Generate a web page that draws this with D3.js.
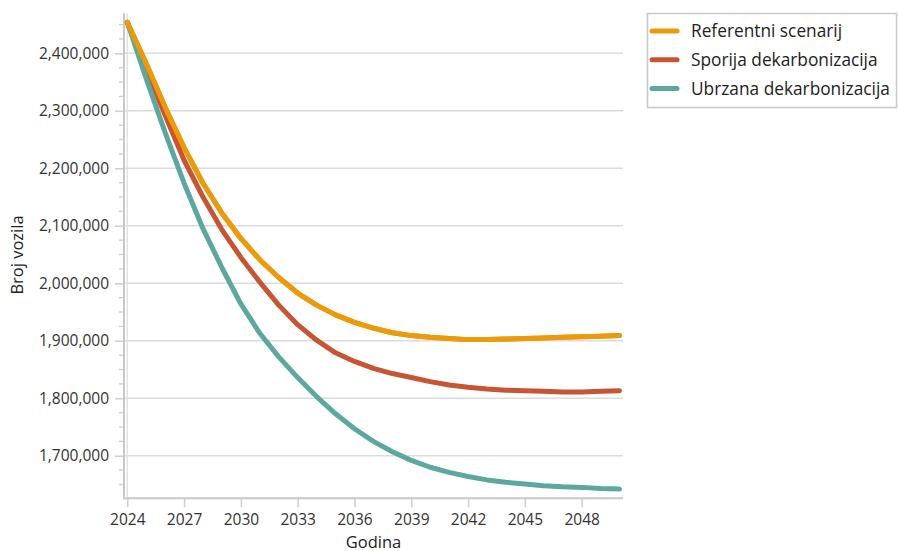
<!DOCTYPE html>
<html>
<head>
<meta charset="utf-8">
<script src="https://cdn.jsdelivr.net/npm/d3@7"></script>
<style>
  html, body { margin: 0; padding: 0; background: #fff; }
  svg { display: block; font-family: "Open Sans", "Noto Sans", sans-serif; }
</style>
</head>
<body>
<svg id="chart" width="898" height="551"></svg>
<script>
const years = d3.range(2024, 2051);
const seriesNames = ["Referentni scenarij", "Sporija dekarbonizacija", "Ubrzana dekarbonizacija"];
const seriesColors = ["#EA9A0A", "#C75433", "#5CA8A0"];
const referentni = [2454000, 2382000, 2306000, 2236000, 2174000, 2122000, 2078000, 2041000, 2010000, 1983000,
  1962000, 1945000, 1932000, 1922000, 1914000, 1909000, 1906000, 1904000, 1902000, 1902000,
  1903000, 1904000, 1905000, 1906000, 1907000, 1908000, 1909000];
const sporija = [2454000, 2372000, 2292000, 2214000, 2150000, 2093000, 2045000, 2002000, 1962000, 1928000,
  1901000, 1879000, 1864000, 1852000, 1843000, 1836000, 1829000, 1823000, 1819000, 1816000,
  1814000, 1813000, 1812000, 1811000, 1811000, 1812000, 1813000];
const ubrzana = [2454000, 2356000, 2262000, 2174000, 2095000, 2027000, 1964000, 1913000, 1872000, 1836000,
  1803000, 1773000, 1747000, 1725000, 1707000, 1692000, 1680000, 1671000, 1664000, 1658000,
  1654000, 1651000, 1648000, 1646000, 1645000, 1643000, 1642000];
const seriesValues = [referentni, sporija, ubrzana];
const xTicks = [2024, 2027, 2030, 2033, 2036, 2039, 2042, 2045, 2048];
const yTicks = [1700000, 1800000, 1900000, 2000000, 2100000, 2200000, 2300000, 2400000];
const xTitle = "Godina";
const yTitle = "Broj vozila";

const svg = d3.select("#chart");
const plotLeft = 124, plotRight = 623, plotTop = 13.3, plotBottom = 498.3;

const x = d3.scaleLinear().domain([2024, 2050]).range([127.3, 619.5]);
const y = d3.scaleLinear().domain([1626000, 2469600]).range([plotBottom, plotTop]);

// gridlines
const grid = svg.append("g");
grid.selectAll("line.h").data(yTicks).join("line")
  .attr("x1", plotLeft).attr("x2", plotRight)
  .attr("y1", d => y(d)).attr("y2", d => y(d))
  .attr("stroke", "#dcdcdc").attr("stroke-width", 1.6);
grid.append("line")
  .attr("x1", x(2024)).attr("x2", x(2024))
  .attr("y1", plotTop).attr("y2", plotBottom)
  .attr("stroke", "#e2e2e2").attr("stroke-width", 1.4);

// minor y ticks
const minor = d3.range(1650000, 2469600, 25000).filter(v => v % 100000 !== 0);
svg.append("g").selectAll("line").data(minor).join("line")
  .attr("x1", plotLeft - 5).attr("x2", plotLeft)
  .attr("y1", d => y(d)).attr("y2", d => y(d))
  .attr("stroke", "#d0d0d0").attr("stroke-width", 1.4);

const tickFont = "15.5px";

// y axis
const yAxis = svg.append("g").attr("transform", `translate(${plotLeft},0)`)
  .call(d3.axisLeft(y).tickValues(yTicks).tickFormat(d3.format(",")).tickSize(9).tickPadding(6));
yAxis.select(".domain").remove();
yAxis.selectAll(".tick line").attr("stroke", "#d0d0d0").attr("stroke-width", 1.6);
yAxis.selectAll(".tick text").attr("fill", "#333").style("font-size", tickFont)
  .style("font-family", "'Open Sans', 'Noto Sans', sans-serif");
svg.append("line").attr("x1", plotLeft).attr("x2", plotLeft)
  .attr("y1", plotTop).attr("y2", plotBottom + 1)
  .attr("stroke", "#c8c8c8").attr("stroke-width", 2);

// x axis
const xAxis = svg.append("g").attr("transform", `translate(0,${plotBottom})`)
  .call(d3.axisBottom(x).tickValues(xTicks).tickFormat(d3.format("d")).tickSize(9).tickPadding(7));
xAxis.select(".domain").remove();
xAxis.selectAll(".tick line").attr("stroke", "#d0d0d0").attr("stroke-width", 1.6);
xAxis.selectAll(".tick text").attr("fill", "#333").style("font-size", tickFont)
  .style("font-family", "'Open Sans', 'Noto Sans', sans-serif");
svg.append("line").attr("x1", plotLeft - 1).attr("x2", plotRight)
  .attr("y1", plotBottom).attr("y2", plotBottom)
  .attr("stroke", "#c8c8c8").attr("stroke-width", 2);

// titles
svg.append("text").attr("x", (plotLeft + plotRight) / 2).attr("y", 547.5)
  .attr("text-anchor", "middle").attr("fill", "#222").style("font-size", "16.5px").text(xTitle);
svg.append("text").attr("transform", `translate(23,255) rotate(-90)`)
  .attr("text-anchor", "middle").attr("fill", "#222").style("font-size", "16.5px").text(yTitle);

// lines
const line = d3.line().x((d, i) => x(years[i])).y(d => y(d));
svg.append("g").selectAll("path").data(seriesValues).join("path")
  .attr("d", d => line(d))
  .attr("fill", "none")
  .attr("stroke", (d, i) => seriesColors[i])
  .attr("stroke-width", 5)
  .attr("stroke-linecap", "round")
  .attr("stroke-linejoin", "round");
// orange drawn on top as in reference
svg.append("path").attr("d", line(referentni)).attr("fill", "none")
  .attr("stroke", seriesColors[0]).attr("stroke-width", 5)
  .attr("stroke-linecap", "round").attr("stroke-linejoin", "round");

// legend
const lg = svg.append("g");
lg.append("rect").attr("x", 647.5).attr("y", 13.5).attr("width", 249).attr("height", 94)
  .attr("fill", "#fff").attr("stroke", "#c8c8c8").attr("stroke-width", 1.5);
const items = lg.selectAll("g.item").data(seriesNames).join("g")
  .attr("transform", (d, i) => `translate(0,${31 + i * 28.8})`);
items.append("line").attr("x1", 652).attr("x2", 677).attr("y1", 0).attr("y2", 0)
  .attr("stroke", (d, i) => seriesColors[i]).attr("stroke-width", 5).attr("stroke-linecap", "round");
items.append("text").attr("x", 691).attr("y", 6).attr("fill", "#222")
  .style("font-size", "17.3px").text(d => d);
</script>
</body>
</html>
